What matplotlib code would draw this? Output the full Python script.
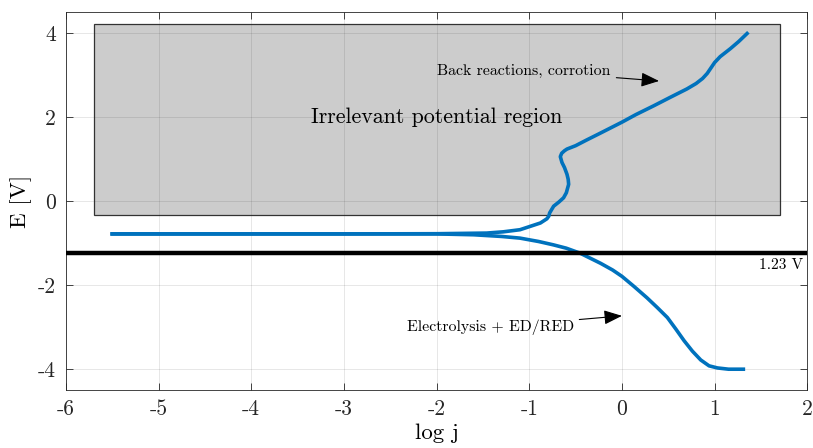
import matplotlib
matplotlib.use("Agg")
import matplotlib.pyplot as plt
from matplotlib.patches import Rectangle

plt.rcParams['font.family'] = 'serif'
plt.rcParams['font.serif'] = ['cmr10', 'DejaVu Serif']
plt.rcParams['mathtext.fontset'] = 'cm'

# Anodic branch (log j, E)
anodic_x = [-5.5, -4.0, -3.0, -2.0, -1.46, -1.28, -1.10, -0.99, -0.88, -0.81, -0.79,
            -0.78, -0.737, -0.68, -0.63, -0.60, -0.575, -0.58, -0.593, -0.62, -0.647,
            -0.665, -0.65, -0.62, -0.593, -0.50, -0.377, -0.25, -0.125, 0.0,
            0.15, 0.343, 0.52, 0.70, 0.80, 0.87, 0.92, 0.96, 1.00, 1.06, 1.17,
            1.26, 1.35]
anodic_y = [-0.78, -0.78, -0.78, -0.775, -0.76, -0.73, -0.68, -0.60, -0.52, -0.42, -0.36,
            -0.28, -0.12, -0.02, 0.08, 0.20, 0.40, 0.52, 0.64, 0.80, 0.92,
            1.06, 1.14, 1.20, 1.24, 1.32, 1.46, 1.60, 1.74, 1.88,
            2.06, 2.27, 2.47, 2.67, 2.80, 2.92, 3.04, 3.17, 3.30, 3.44, 3.63,
            3.80, 3.99]
# Cathodic branch
cathodic_x = [-5.5, -4.0, -3.0, -2.0, -1.6, -1.3, -1.10, -0.90, -0.74, -0.60, -0.45,
              -0.23, -0.10, 0.0, 0.13, 0.27, 0.38, 0.49, 0.58, 0.67, 0.76, 0.85,
              0.94, 1.03, 1.15, 1.31]
cathodic_y = [-0.78, -0.78, -0.78, -0.78, -0.80, -0.84, -0.88, -0.96, -1.04, -1.12, -1.24,
              -1.48, -1.64, -1.79, -2.03, -2.30, -2.53, -2.77, -3.04, -3.32, -3.57, -3.78,
              -3.92, -3.97, -4.0, -4.0]

xticks = [-6, -5, -4, -3, -2, -1, 0, 1, 2]
yticks = [-4, -2, 0, 2, 4]
e_line = -1.23
region = (-5.70, -0.33, 1.71, 4.21)  # x0, y0, x1, y1

fig = plt.figure(figsize=(8.13, 4.48), dpi=100)
ax = fig.add_axes([0.081, 0.129, 0.912, 0.844])
ax.set_xlim(-6, 2)
ax.set_ylim(-4.5, 4.5)

ax.add_patch(Rectangle((region[0], region[1]), region[2] - region[0], region[3] - region[1],
                       facecolor='#cccccc', edgecolor='#333333', lw=0.9, zorder=1))

blue = '#0072BD'
ax.plot(anodic_x, anodic_y, color=blue, lw=2.6, zorder=3, solid_joinstyle='round')
ax.plot(cathodic_x, cathodic_y, color=blue, lw=2.6, zorder=3, solid_joinstyle='round')
ax.axhline(e_line, color='black', lw=3.2, zorder=4)

ax.text(1.95, -1.52, '1.23 V', ha='right', va='center', fontsize=11.2)
ax.text(-2.0, 2.0, 'Irrelevant potential region', ha='center', va='center', fontsize=15.8)

arrow_kw = dict(arrowstyle='-|>,head_length=0.55,head_width=0.22', color='black',
                lw=0.8, mutation_scale=20, shrinkA=2, shrinkB=0)
ax.annotate('Back reactions, corrotion', xy=(0.40, 2.86), xytext=(-0.12, 3.11),
            ha='right', va='center', fontsize=11.4, arrowprops=arrow_kw)
ax.annotate('Electrolysis + ED/RED', xy=(0.0, -2.73), xytext=(-0.52, -3.0),
            ha='right', va='center', fontsize=11.4, arrowprops=arrow_kw)

ax.set_xticks(xticks)
ax.set_xticklabels([str(t) for t in xticks])
ax.set_yticks(yticks)
ax.set_yticklabels([str(t) for t in yticks])
ax.tick_params(direction='in', top=True, right=True, length=5, width=0.6,
               labelsize=15.5, colors='#262626', pad=7)
ax.set_axisbelow('line')
ax.grid(True, color='#262626', alpha=0.13, lw=0.6)
for s in ax.spines.values():
    s.set_color('#262626')
    s.set_linewidth(0.6)

ax.set_xlabel('log j', fontsize=16.5, labelpad=3)
ax.set_ylabel('E [V]', fontsize=16.5, labelpad=4)

fig.savefig('out.png', dpi=100)
